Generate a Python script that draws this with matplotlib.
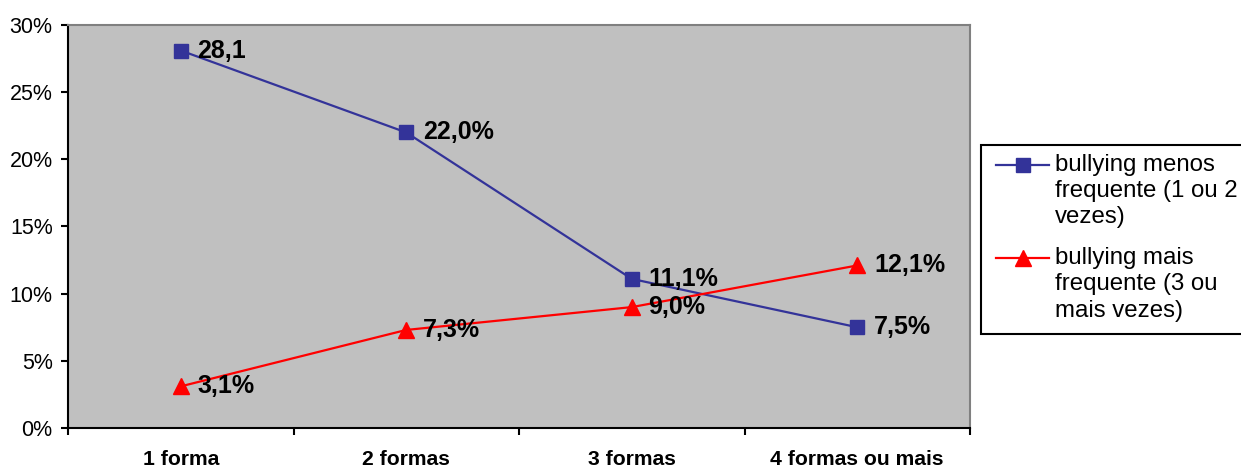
import matplotlib

matplotlib.use("Agg")
import matplotlib.pyplot as plt
from matplotlib.lines import Line2D
from matplotlib.patches import Rectangle
from matplotlib.ticker import FuncFormatter

plt.rcParams["font.family"] = ["Liberation Sans", "DejaVu Sans"]

# Number of bullying forms and share of students in each frequency group
categories = ["1 forma", "2 formas", "3 formas", "4 formas ou mais"]
menos_frequente = [28.1, 22.0, 11.1, 7.5]
mais_frequente = [3.1, 7.3, 9.0, 12.1]
menos_labels = ["28,1", "22,0%", "11,1%", "7,5%"]
mais_labels = ["3,1%", "7,3%", "9,0%", "12,1%"]
series_names = ["bullying menos\nfrequente (1 ou 2\nvezes)",
                "bullying mais\nfrequente (3 ou\nmais vezes)"]
y_ticks = [0, 5, 10, 15, 20, 25, 30]

W, H = 1241, 468
fig = plt.figure(figsize=(W / 100, H / 100), dpi=100)
ax = fig.add_axes([68 / W, 1 - 428 / H, 902 / W, 403 / H])
ax.set_facecolor("#C0C0C0")

styles = [dict(color="#333399", marker="s", markersize=10),
          dict(color="#FF0000", marker="^", markersize=11)]

x = list(range(len(categories)))
for values, labels, style in zip([menos_frequente, mais_frequente],
                                 [menos_labels, mais_labels], styles):
    ax.plot(x, values, linewidth=1.6, zorder=3, **style)
    for xi, value, text in zip(x, values, labels):
        ax.annotate(text, (xi, value), xytext=(12, 0), textcoords="offset points",
                    va="center", ha="left", fontsize=18, fontweight="bold")

ax.set_xlim(-0.5, len(categories) - 0.5)
ax.set_ylim(0, 30)
ax.set_yticks(y_ticks)
ax.yaxis.set_major_formatter(FuncFormatter(lambda v, _: f"{v:.0f}%"))
ax.tick_params(axis="y", labelsize=15.5, length=5, width=1.5, direction="out", pad=6)

# category labels sit between tick marks
ax.set_xticks([i - 0.5 for i in range(len(categories) + 1)])
ax.set_xticklabels([])
ax.set_xticks(x, minor=True)
ax.set_xticklabels(categories, minor=True, fontsize=15.2, fontweight="bold")
ax.tick_params(axis="x", which="major", length=5, width=1.5, direction="out")
ax.tick_params(axis="x", which="minor", length=0, pad=15.5)

for side in ["left", "bottom"]:
    ax.spines[side].set_color("black")
    ax.spines[side].set_linewidth(1.5)
for side in ["top", "right"]:
    ax.spines[side].set_color("#808080")
    ax.spines[side].set_linewidth(1.5)

# legend box, handles aligned with the first line of each label
fig.patches.append(Rectangle((981 / W, 1 - 334 / H), 270 / W, 189 / H,
                             transform=fig.transFigure, facecolor="white",
                             edgecolor="black", linewidth=1.5))
for name, style, top in zip(series_names, styles, [165, 258]):
    fig.lines.append(Line2D([996 / W, 1049 / W], [1 - top / H] * 2,
                            transform=fig.transFigure, linewidth=1.6,
                            markevery=[], **style))
    fig.lines.append(Line2D([1023 / W], [1 - top / H], transform=fig.transFigure,
                            linestyle="none", **style))
    fig.text(1055 / W, 1 - (top - 11) / H, name, fontsize=17.3, va="top",
             ha="left", linespacing=1.25)

fig.savefig("out.png", dpi=100)
